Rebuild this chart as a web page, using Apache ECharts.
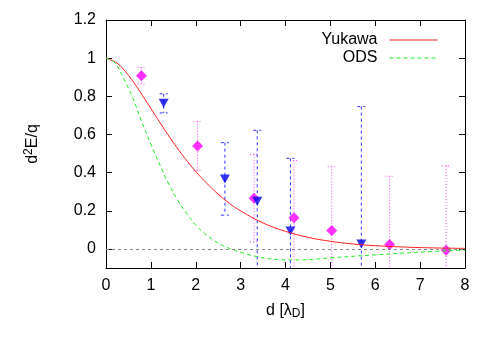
<!DOCTYPE html>
<html>
<head>
<meta charset="utf-8">
<script src="https://cdn.jsdelivr.net/npm/echarts@6/dist/echarts.min.js"></script>
<style>
  html, body { margin: 0; padding: 0; background: #fff; }
  #main { width: 491px; height: 342px; }
</style>
</head>
<body>
<div id="main"></div>
<script>
// curves
var yukawaD = [0, 0.25, 0.5, 0.75, 1, 1.25, 1.5, 1.75, 2, 2.25, 2.5, 2.75, 3, 3.5, 4, 4.5, 5, 5.5, 6, 7, 8];
var yukawaY = [1.0, 0.973, 0.91, 0.827, 0.736, 0.645, 0.558, 0.478, 0.406, 0.343, 0.287, 0.239, 0.199, 0.136, 0.092, 0.061, 0.04, 0.026, 0.017, 0.007, 0.003];
var odsD = [0, 0.2, 0.4, 0.6, 0.8, 1.0, 1.2, 1.4, 1.6, 1.8, 2.0, 2.2, 2.4, 2.6, 2.8, 3.0, 3.4, 3.8, 4.2, 4.6, 5.0, 6.0, 7.0, 8.0];
var odsY = [1.0, 0.975, 0.89, 0.79, 0.665, 0.55, 0.44, 0.34, 0.255, 0.185, 0.125, 0.08, 0.045, 0.018, -0.002, -0.018, -0.042, -0.055, -0.058, -0.055, -0.047, -0.031, -0.017, -0.006];

// measured points (magenta diamonds, blue triangles) with symmetric errors
var magD = [0.79, 2.04, 3.30, 4.19, 5.03, 6.32, 7.58];
var magY = [0.908, 0.54, 0.266, 0.164, 0.096, 0.023, -0.007];
var magErr = [0.044, 0.128, 0.23, 0.30, 0.337, 0.358, 0.442];
var bluD = [1.285, 2.65, 3.37, 4.11, 5.69];
var bluY = [0.763, 0.367, 0.25, 0.094, 0.026];
var bluErr = [0.05, 0.19, 0.372, 0.381, 0.72];

var yTicks = [0, 0.2, 0.4, 0.6, 0.8, 1, 1.2];
var yMin = -0.1, yMax = 1.2;

function pairs(xs, ys) {
  return xs.map(function (x, i) { return [x, ys[i]]; });
}
function errRows(xs, ys, es) {
  return xs.map(function (x, i) { return [x, ys[i] - es[i], ys[i] + es[i]]; });
}

function errBar(color, dash) {
  return function (params, api) {
    var x = api.value(0);
    var lo = Math.max(api.value(1), yMin);
    var hi = Math.min(api.value(2), yMax);
    var top = api.coord([x, hi]);
    var bot = api.coord([x, lo]);
    var st = { stroke: color, lineWidth: 1, lineDash: dash, fill: null };
    var kids = [
      { type: 'line', shape: { x1: top[0], y1: top[1], x2: bot[0], y2: bot[1] }, style: st },
      { type: 'line', shape: { x1: top[0] - 4, y1: top[1], x2: top[0] + 4, y2: top[1] }, style: st }
    ];
    if (api.value(1) > yMin) {
      kids.push({ type: 'line', shape: { x1: bot[0] - 4, y1: bot[1], x2: bot[0] + 4, y2: bot[1] }, style: st });
    }
    return { type: 'group', children: kids };
  };
}

var font = 'Liberation Sans, Arial, sans-serif';
var chart = echarts.init(document.getElementById('main'));

var option = {
  animation: false,
  textStyle: { fontFamily: font },
  grid: { left: 106, right: 26, top: 20, bottom: 74 },
  legend: {
    data: ['Yukawa', 'ODS'],
    orient: 'vertical',
    align: 'right',
    right: 48,
    top: 27,
    itemWidth: 48,
    itemHeight: 10,
    itemGap: 2,
    itemStyle: { opacity: 0 },
    lineStyle: { width: 1 },
    textStyle: { fontFamily: font, fontSize: 16, color: '#000', padding: [0, 7, 0, 0] }
  },
  xAxis: [{
    type: 'value', min: 0, max: 8, interval: 1,
    name: '{a|d [λ}{sub|D}{a|]}',
    nameLocation: 'middle', nameGap: 33,
    nameTextStyle: {
      rich: {
        a: { fontFamily: font, fontSize: 16, color: '#000' },
        sub: { fontFamily: font, fontSize: 12, color: '#000', verticalAlign: 'bottom', padding: [7, 0, 0, 0] }
      }
    },
    axisLine: { onZero: false, lineStyle: { color: '#000', width: 1 } },
    axisTick: { inside: true, length: 6, lineStyle: { color: '#000' } },
    axisLabel: { fontFamily: font, fontSize: 16, color: '#000', margin: 10 },
    splitLine: { show: false }
  }, {
    type: 'value', min: 0, max: 8, interval: 1, position: 'top',
    axisLine: { onZero: false, lineStyle: { color: '#000', width: 1 } },
    axisTick: { inside: true, length: 6, lineStyle: { color: '#000' } },
    axisLabel: { show: false },
    splitLine: { show: false }
  }],
  yAxis: [{
    type: 'value', min: yMin, max: yMax,
    name: '{a|d}{sup|2}{a|E/q}',
    nameLocation: 'middle', nameGap: 64, nameRotate: 90,
    nameTextStyle: {
      rich: {
        a: { fontFamily: font, fontSize: 16, color: '#000' },
        sup: { fontFamily: font, fontSize: 12, color: '#000', verticalAlign: 'top', padding: [0, 0, 7, 0] }
      }
    },
    axisLine: { onZero: false, lineStyle: { color: '#000', width: 1 } },
    axisTick: { inside: true, length: 6, customValues: yTicks, lineStyle: { color: '#000' } },
    axisLabel: { fontFamily: font, fontSize: 16, color: '#000', margin: 10, customValues: yTicks },
    splitLine: { show: false }
  }, {
    type: 'value', min: yMin, max: yMax, position: 'right',
    axisLine: { show: true, onZero: false, lineStyle: { color: '#000', width: 1 } },
    axisTick: { show: true, inside: true, length: 6, customValues: yTicks, lineStyle: { color: '#000' } },
    axisLabel: { show: false },
    splitLine: { show: false }
  }],
  series: [
    {
      name: 'zero', type: 'line', data: [], silent: true,
      markLine: {
        silent: true, symbol: 'none', label: { show: false },
        lineStyle: { color: '#888', type: [3, 3], width: 1 },
        data: [{ yAxis: 0 }]
      }
    },
    {
      name: 'Yukawa', type: 'line', data: pairs(yukawaD, yukawaY),
      smooth: 0.4, showSymbol: false, symbol: 'none',
      lineStyle: { color: '#ff2020', width: 1 }, itemStyle: { color: '#ff2020' }
    },
    {
      name: 'ODS', type: 'line', data: pairs(odsD, odsY),
      smooth: 0.4, showSymbol: false, symbol: 'none',
      lineStyle: { color: '#22ee22', width: 1, type: [4, 3] }, itemStyle: { color: '#22ee22' }
    },
    {
      name: 'magErr', type: 'custom', data: errRows(magD, magY, magErr),
      encode: { x: 0, y: [1, 2] }, renderItem: errBar('#ff44ff', [1, 2]), silent: true
    },
    {
      name: 'bluErr', type: 'custom', data: errRows(bluD, bluY, bluErr),
      encode: { x: 0, y: [1, 2] }, renderItem: errBar('#3333ff', [3, 3]), silent: true
    },
    {
      name: 'mag', type: 'scatter', data: pairs(magD, magY),
      symbol: 'diamond', symbolSize: 11, itemStyle: { color: '#ff00ff' }
    },
    {
      name: 'blu', type: 'scatter', data: pairs(bluD, bluY),
      symbol: 'triangle', symbolRotate: 180, symbolSize: [10, 9], itemStyle: { color: '#0000ee' }
    }
  ]
};

chart.setOption(option);
</script>
</body>
</html>
